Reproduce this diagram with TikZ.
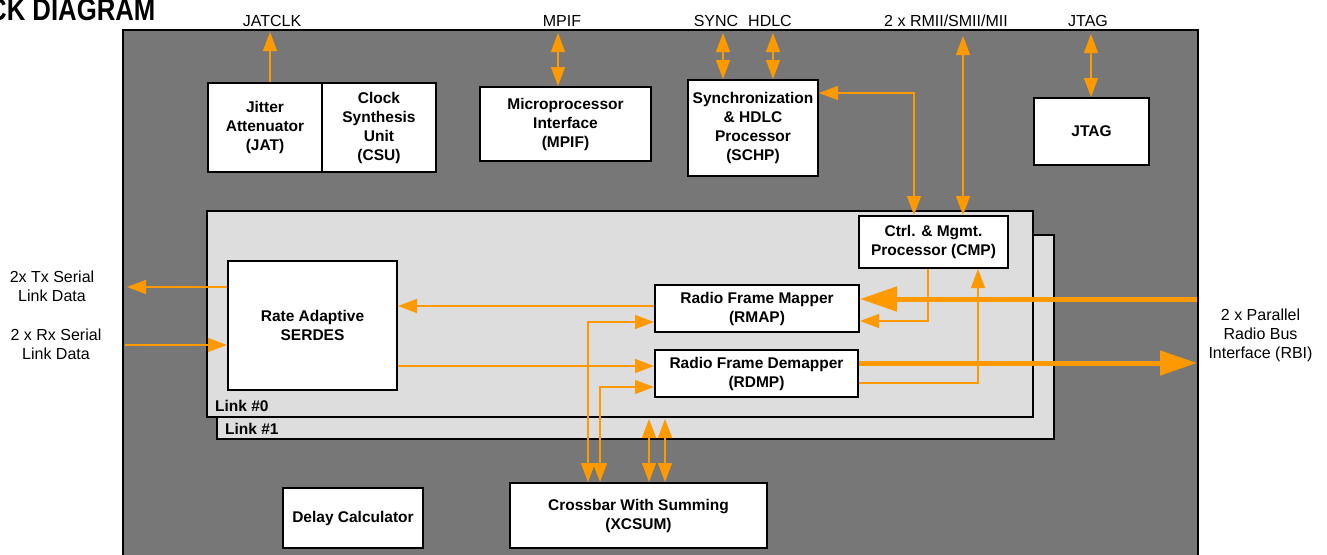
\documentclass[tikz,border=0pt]{standalone}
\usepackage{fontspec}
\setmainfont{Liberation Sans}
\newfontfamily\titlefont[FakeStretch=0.83]{Liberation Sans}
\usetikzlibrary{arrows.meta}
\definecolor{shellgray}{HTML}{777777}
\definecolor{panelgray}{HTML}{DDDDDD}
\definecolor{wireorange}{HTML}{FF9900}
\tikzset{
  blk/.style={draw=black, fill=white, line width=2pt, inner sep=0pt, align=center,
    font=\bfseries\fontsize{15.5}{19}\selectfont},
  lbl/.style={inner sep=0pt, align=center, font=\fontsize{16}{19}\selectfont},
  linklbl/.style={inner sep=0pt, anchor=base west, font=\bfseries\fontsize{15.5}{19}\selectfont},
  panel/.style={draw=black, fill=panelgray, line width=2pt},
  wire/.style={draw=wireorange, line width=1.3pt},
  arr/.style={wire, -{Triangle[length=19pt,width=14pt]}},
  biarr/.style={wire, {Triangle[length=19pt,width=14pt]}-{Triangle[length=19pt,width=14pt]}},
  bus/.style={draw=wireorange, line width=5pt, -{Triangle[length=37pt,width=24pt]}},
}
\begin{document}
\begin{tikzpicture}[x=1pt,y=-1pt]
\clip (0,0) rectangle (1327,554);
\fill[white] (0,0) rectangle (1327,554);

% title
\node[inner sep=0pt, anchor=base west, font=\titlefont\bfseries\fontsize{31}{31}\selectfont]
  (title) at (-12,20) {CK DIAGRAM};

% device outline
\draw[draw=black, fill=shellgray, line width=2pt] (123,30) rectangle (1198,580);

% top pin labels
\node[lbl, anchor=base] (lJATCLK) at (272,26) {JATCLK};
\node[lbl, anchor=base] (lMPIF) at (562,26) {MPIF};
\node[lbl, anchor=base] (lSYNC) at (716,26) {SYNC};
\node[lbl, anchor=base] (lHDLC) at (770,26) {HDLC};
\node[lbl, anchor=base] (lRMII) at (946,26) {2 x RMII/SMII/MII};
\node[lbl, anchor=base] (lJTAG) at (1088,26) {JTAG};

% side labels
\node[lbl] (lTx) at (52,286.5) {2x Tx Serial\\Link Data};
\node[lbl] (lRx) at (56,344) {2 x Rx Serial\\Link Data};
\node[lbl] (lRBI) at (1260.5,335.5) {2 x Parallel\\Radio Bus\\Interface (RBI)};

% per-link panels
\draw[panel] (217,235) rectangle (1054,439);
\node[linklbl] (link1) at (225,434) {Link \#1};
\draw[panel] (207,211) rectangle (1033,417);
\node[linklbl] (link0) at (215,411) {Link \#0};

% functional blocks
\node[blk, minimum width=114pt, minimum height=89pt] (jat) at (265,127.5) {Jitter\\Attenuator\\(JAT)};
\node[blk, minimum width=114pt, minimum height=89pt] (csu) at (379,127.5) {Clock\\Synthesis\\Unit\\(CSU)};
\node[blk, minimum width=171pt, minimum height=74pt] (mpif) at (565.5,124) {Microprocessor\\Interface\\(MPIF)};
\node[blk, minimum width=130pt, minimum height=96pt] (schp) at (753,128) {Synchronization\\\& HDLC\\Processor\\(SCHP)};
\node[blk, minimum width=115pt, minimum height=67pt] (jtag) at (1091.5,131.5) {JTAG};
\node[blk, minimum width=149pt, minimum height=52pt] (cmp) at (933.5,242) {Ctrl. \& Mgmt.\\Processor (CMP)};
\node[blk, minimum width=169pt, minimum height=129pt] (serdes) at (312.5,325.5) {Rate Adaptive\\SERDES};
\node[blk, minimum width=204pt, minimum height=47pt] (rmap) at (757,308.5) {Radio Frame Mapper\\(RMAP)};
\node[blk, minimum width=203pt, minimum height=47pt] (rdmp) at (756.5,373.5) {Radio Frame Demapper\\(RDMP)};
\node[blk, minimum width=257pt, minimum height=65pt] (xcsum) at (638.5,515.5) {Crossbar With Summing\\(XCSUM)};
\node[blk, minimum width=140pt, minimum height=60pt] (delay) at (353,518) {Delay Calculator};

% pin end points and bends
\coordinate (pJATCLK) at (270,32);
\coordinate (pMPIF) at (558,33);
\coordinate (pSYNC) at (723,33);
\coordinate (pHDLC) at (773,33);
\coordinate (pRMII) at (963,36);
\coordinate (pJTAG) at (1091,34);
\coordinate (bSC) at (914,93);
\coordinate (pTx) at (127,287);
\coordinate (pRx) at (125,345);
\coordinate (bX1) at (588,322);
\coordinate (bX2) at (600,387);
\coordinate (bU1) at (649,419);
\coordinate (bU2) at (665,419);
\coordinate (pRBIin) at (1197,299);
\coordinate (pRBIout) at (1197,363);
\coordinate (bC1) at (928,321);
\coordinate (bC2) at (978,383);
\coordinate (sR) at (655,306);
\coordinate (sD) at (655,366);

% external pins
\draw[arr] (pJATCLK |- jat.north) -- (pJATCLK);
\draw[biarr] (pMPIF) -- (pMPIF |- mpif.north);
\draw[biarr] (pSYNC) -- (pSYNC |- schp.north);
\draw[biarr] (pHDLC) -- (pHDLC |- schp.north);
\draw[biarr] (pRMII) -- (pRMII |- cmp.north);
\draw[biarr] (pJTAG) -- (pJTAG |- jtag.north);
\draw[arr] (serdes.west |- pTx) -- (pTx);
\draw[arr] (pRx) -- (serdes.west |- pRx);
\draw[bus] (pRBIin) -- (rmap.east |- pRBIin);
\draw[bus] (rdmp.east |- pRBIout) -- (pRBIout);

% internal connections
\draw[biarr] (schp.east |- bSC) -- (bSC) -- (bSC |- cmp.north);
\draw[arr] (rmap.west |- sR) -- (serdes.east |- sR);
\draw[arr] (serdes.east |- sD) -- (rdmp.west |- sD);
\draw[biarr] (bX1 |- xcsum.north) -- (bX1) -- (rmap.west |- bX1);
\draw[biarr] (bX2 |- xcsum.north) -- (bX2) -- (rdmp.west |- bX2);
\draw[biarr] (bU1 |- xcsum.north) -- (bU1);
\draw[biarr] (bU2 |- xcsum.north) -- (bU2);
\draw[arr] (bC1 |- cmp.south) -- (bC1) -- (rmap.east |- bC1);
\draw[arr] (rdmp.east |- bC2) -- (bC2) -- (bC2 |- cmp.south);
\end{tikzpicture}
\end{document}
